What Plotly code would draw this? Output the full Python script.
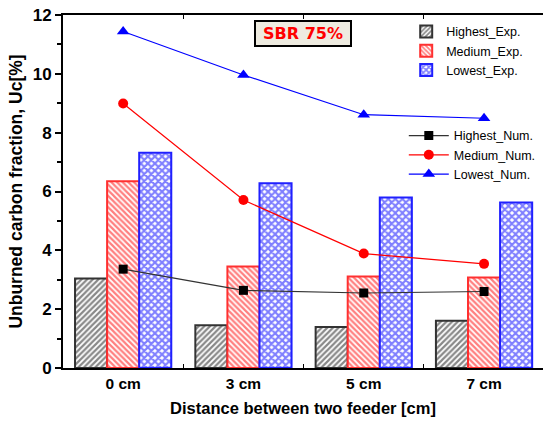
import plotly.graph_objects as go

categories = ["0 cm", "3 cm", "5 cm", "7 cm"]
highest_exp = [3.04, 1.45, 1.39, 1.61]
medium_exp = [6.35, 3.45, 3.11, 3.08]
lowest_exp = [7.32, 6.28, 5.80, 5.63]
highest_num = [3.36, 2.64, 2.55, 2.60]
medium_num = [8.99, 5.71, 3.89, 3.54]
lowest_num = [11.44, 9.96, 8.61, 8.49]
y_ticks = [0, 2, 4, 6, 8, 10, 12]

FONT = "Liberation Sans, Arial, sans-serif"

fig = go.Figure()

bar_specs = [
    ("Highest_Exp.", highest_exp, "#111111", "#333333", "/", 4, 0.55),
    ("Medium_Exp.", medium_exp, "#ff0000", "#ff3030", "\\", 4, 0.55),
    ("Lowest_Exp.", lowest_exp, "#0000ff", "#2020ff", "x", 5, 0.65),
]
for name, vals, fg, edge, shp, sz, sol in bar_specs:
    fig.add_trace(go.Bar(
        x=categories, y=vals, name=name, legend="legend",
        marker=dict(color="white", line=dict(color=edge, width=2),
                    pattern=dict(shape=shp, fgcolor=fg, bgcolor="white",
                                 size=sz, solidity=sol, fillmode="overlay")),
    ))

line_specs = [
    ("Highest_Num.", highest_num, "#333333", "square", 9, "black"),
    ("Medium_Num.", medium_num, "red", "circle", 10, "red"),
    ("Lowest_Num.", lowest_num, "blue", "triangle-up", 11, "blue"),
]
for name, vals, col, sym, sz, mcol in line_specs:
    fig.add_trace(go.Scatter(
        x=categories, y=vals, name=name, legend="legend2", mode="lines+markers",
        line=dict(color=col, width=1.2),
        marker=dict(symbol=sym, size=sz, color=mcol, line=dict(width=0)),
    ))

plot_l, plot_r, plot_t, plot_b = 63, 0, 15, 57
plot_w = 543 - plot_l - plot_r
plot_h = 425 - plot_t - plot_b

fig.update_layout(
    width=543, height=425,
    margin=dict(l=plot_l, r=plot_r, t=plot_t, b=plot_b),
    paper_bgcolor="white", plot_bgcolor="white",
    barmode="group", bargap=0.2, bargroupgap=0,
    font=dict(family=FONT, color="black"),
    showlegend=True,
    legend=dict(x=0.715, y=0.995, xanchor="left", yanchor="top",
                bgcolor="rgba(0,0,0,0)", font=dict(size=12.5, family=FONT),
                itemwidth=30, tracegroupgap=0),
    legend2=dict(x=0.71, y=0.70, xanchor="left", yanchor="top",
                 bgcolor="rgba(0,0,0,0)", font=dict(size=12.5, family=FONT),
                 itemwidth=40, tracegroupgap=0),
    xaxis=dict(
        type="category", range=[-0.5, 3.49],
        showline=True, linecolor="black", linewidth=2, mirror="ticks",
        ticks="inside", tickson="boundaries", ticklen=4, tickcolor="black",
        showgrid=False, zeroline=False,
        tickfont=dict(size=15.5, family=FONT, weight="bold"),
        title=dict(text="Distance between two feeder [cm]", standoff=12,
                   font=dict(size=16.5, family=FONT, weight="bold")),
    ),
    yaxis=dict(
        range=[0, 12], tickvals=y_ticks,
        showline=True, linecolor="black", linewidth=2, mirror=False,
        ticks="outside", ticklen=6, tickwidth=1.5, tickcolor="black",
        minor=dict(ticks="outside", ticklen=4, tickcolor="black", dtick=1, showgrid=False),
        showgrid=False, zeroline=False,
        tickfont=dict(size=17, family=FONT, weight="bold"),
        title=dict(text="Unburned carbon fraction, Uc[%]", standoff=6,
                   font=dict(size=17.5, family=FONT, weight="bold")),
    ),
    annotations=[dict(
        x=(303 - plot_l) / plot_w, y=(425 - plot_b - 34) / plot_h,
        xref="paper", yref="paper", xanchor="center", yanchor="middle",
        showarrow=False,
        text="<b>SBR 75%</b>", font=dict(size=16, color="red", family="DejaVu Sans"),
        bgcolor="#EEEBE0", bordercolor="black", borderwidth=2,
        width=92, height=21,
    )],
)

fig.write_html("out.html")
